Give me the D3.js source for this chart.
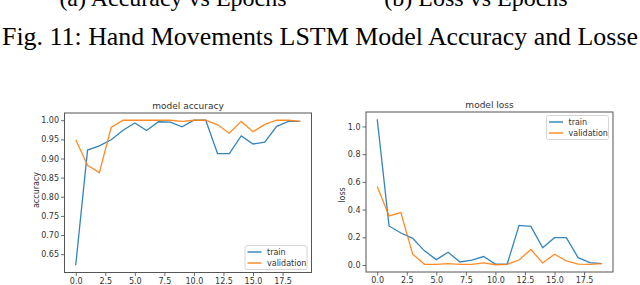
<!DOCTYPE html>
<html><head><meta charset="utf-8">
<script src="https://cdn.jsdelivr.net/npm/d3@7"></script>
<style>body{margin:0;background:#fff;}svg{display:block;}</style>
</head><body>
<svg id="c" width="640" height="285"></svg>
<script>
const epochs = d3.range(20);
const accTrain = [0.621,0.922,0.933,0.949,0.974,0.993,0.973,0.996,0.995,0.983,1.0,1.0,0.913,0.913,0.959,0.938,0.943,0.984,0.997,0.997];
const accVal   = [0.949,0.882,0.863,0.981,1.0,1.0,1.0,1.0,1.0,0.997,1.0,1.0,0.988,0.966,0.997,0.970,0.989,1.0,1.0,0.997];
const lossTrain = [1.052,0.282,0.231,0.192,0.102,0.039,0.092,0.022,0.036,0.061,0.007,0.007,0.286,0.279,0.124,0.197,0.197,0.053,0.017,0.010];
const lossVal   = [0.566,0.354,0.379,0.078,0.005,0.005,0.010,0.005,0.005,0.015,0.002,0.005,0.036,0.112,0.015,0.078,0.029,0.007,0.005,0.010];
const xTicks = [0,2.5,5,7.5,10,12.5,15,17.5];
const accTicks = [0.65,0.70,0.75,0.80,0.85,0.90,0.95,1.00];
const lossTicks = [0,0.2,0.4,0.6,0.8,1.0];
const seriesNames = ["train","validation"];
const colors = ["#1f77b4","#ff7f0e"];

const svg = d3.select("#c");
const serif = "'Liberation Serif'";
const sans = "'DejaVu Sans',sans-serif";

// captions
svg.append("text").attr("x",173).attr("y",6).attr("text-anchor","middle")
  .attr("font-family",serif).attr("font-size",24).text("(a) Accuracy vs Epochs");
svg.append("text").attr("x",476).attr("y",6).attr("text-anchor","middle")
  .attr("font-family",serif).attr("font-size",24).text("(b) Loss vs Epochs");
svg.append("text").attr("x",2).attr("y",45)
  .attr("font-family",serif).attr("font-size",25).attr("textLength",636).attr("lengthAdjust","spacingAndGlyphs")
  .text("Fig. 11: Hand Movements LSTM Model Accuracy and Losse");

function chart(o){
  const g = svg.append("g");
  const x = d3.scaleLinear().domain([-0.95,19.95]).range([o.left,o.right]);
  const ext = d3.extent(o.a.concat(o.b));
  const pad = (ext[1]-ext[0])*0.05;
  const y = d3.scaleLinear().domain([ext[0]-pad, ext[1]+pad]).range([o.bottom,o.top]);
  const ax = g.append("g").attr("transform",`translate(0,${o.bottom})`)
    .call(d3.axisBottom(x).tickValues(xTicks).tickSize(3.5).tickPadding(2).tickFormat(d3.format(".1f")));
  const ay = g.append("g").attr("transform",`translate(${o.left},0)`)
    .call(d3.axisLeft(y).tickValues(o.yTicks).tickSize(3.5).tickPadding(2).tickFormat(d3.format(o.fmt)));
  [ax,ay].forEach(a=>{
    a.select(".domain").remove();
    a.selectAll("line").attr("stroke","#444").attr("stroke-width",0.8);
    a.selectAll("text").attr("font-family",sans).attr("font-size",8).attr("fill","#333");
  });
  const line = d3.line().x((d,i)=>x(epochs[i])).y(d=>y(d));
  [o.a,o.b].forEach((s,k)=>{
    g.append("path").attr("d",line(s)).attr("fill","none").attr("stroke",colors[k]).attr("stroke-width",1.3).attr("stroke-opacity",0.9);
  });
  g.append("rect").attr("x",o.left).attr("y",o.top).attr("width",o.right-o.left).attr("height",o.bottom-o.top)
    .attr("fill","none").attr("stroke","#555").attr("stroke-width",1);
  g.append("text").attr("x",(o.left+o.right)/2).attr("y",o.top-4).attr("text-anchor","middle")
    .attr("font-family",sans).attr("font-size",9).attr("fill","#333").text(o.title);
  g.append("text").attr("transform",`translate(${o.ylx},${o.yly}) rotate(-90)`).attr("text-anchor","middle")
    .attr("dy","0.35em").attr("font-family",sans).attr("font-size",8).attr("fill","#333").text(o.ylabel);
  const L = o.legend;
  g.append("rect").attr("x",L.x).attr("y",L.y).attr("width",L.w).attr("height",L.h).attr("rx",2)
    .attr("fill","#fff").attr("stroke","#ccc").attr("stroke-width",0.8);
  seriesNames.forEach((n,k)=>{
    const yy = L.y + 6.5 + k*11;
    g.append("line").attr("x1",L.x+2.5).attr("x2",L.x+16.5).attr("y1",yy).attr("y2",yy)
      .attr("stroke",colors[k]).attr("stroke-width",1.3);
    g.append("text").attr("x",L.x+22).attr("y",yy).attr("dy","0.35em").attr("font-family",sans)
      .attr("font-size",8).attr("fill","#333").text(n);
  });
}

chart({a:accTrain,b:accVal,left:64.5,right:311.5,top:113,bottom:272.5,yTicks:accTicks,fmt:".2f",
  title:"model accuracy",ylabel:"accuracy",ylx:36,yly:190,legend:{x:245,y:245.5,w:62,h:24}});
chart({a:lossTrain,b:lossVal,left:366,right:613,top:112,bottom:272,yTicks:lossTicks,fmt:".1f",
  title:"model loss",ylabel:"loss",ylx:342,yly:195,legend:{x:546.5,y:115.5,w:62,h:24}});
</script>
</body></html>
